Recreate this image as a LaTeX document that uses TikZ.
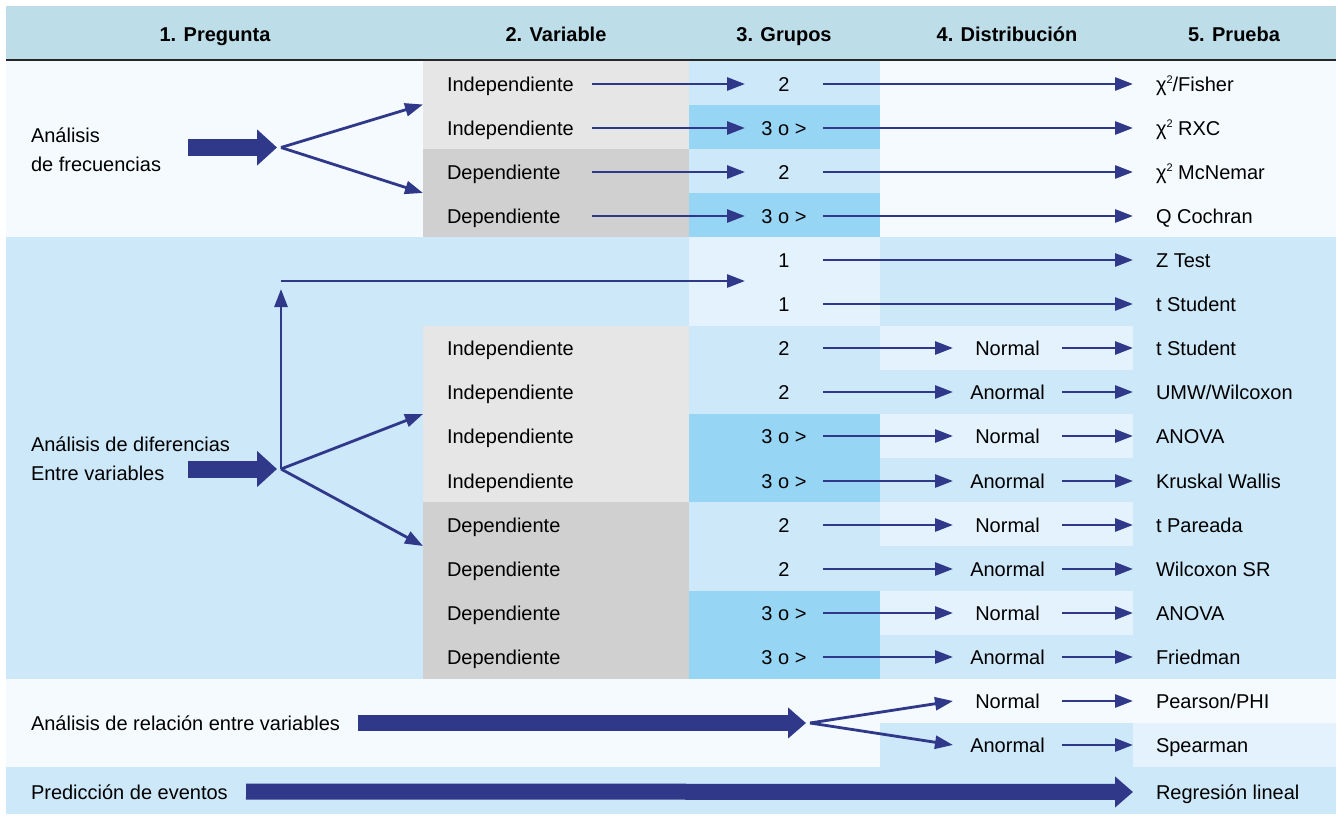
\documentclass[tikz,border=0pt]{standalone}
\usepackage{fontspec}
\setmainfont{Liberation Sans}
\usetikzlibrary{arrows.meta}
\definecolor{hdrc}{HTML}{BDDEE9}
\definecolor{paleA}{HTML}{F5FAFE}
\definecolor{paleB}{HTML}{E3F2FC}
\definecolor{blueA}{HTML}{CCE8F9}
\definecolor{blueB}{HTML}{97D5F5}
\definecolor{grayA}{HTML}{E6E6E6}
\definecolor{grayB}{HTML}{D0D0D0}
\definecolor{arr}{HTML}{30388A}
\newcommand{\chisq}{χ\raisebox{7.5pt}{\fontsize{11pt}{11pt}\selectfont 2}}
\tikzset{
  txt/.style={inner xsep=0pt, inner ysep=0pt, outer sep=0pt, text height=14.4pt, text depth=0pt,
    font=\fontsize{20pt}{24pt}\selectfont},
  hd/.style={txt, font=\fontsize{20pt}{24pt}\selectfont\bfseries},
  var/.style={txt, anchor=west, text width=145pt, align=left},
  grp/.style={txt, minimum width=78pt},
  dst/.style={txt, minimum width=109pt},
  prb/.style={txt, anchor=west},
  qst/.style={txt, anchor=west},
  con/.style={draw=arr, line width=2.8pt, -{Triangle[length=18pt,width=13pt]}},
  topr/.style={con, shorten >=23pt},
  bigA/.style={draw=arr, line width=17pt, -{Triangle[length=20pt,width=35pt]}},
  bigB/.style={draw=arr, line width=16pt, -{Triangle[length=18pt,width=30pt]}},
  bgblk/.style={inner sep=0pt, outer sep=0pt, anchor=north west}
}
\begin{document}
\begin{tikzpicture}[x=1pt,y=-1pt]
\useasboundingbox (0,0) rectangle (1336,816);
% ---------- backgrounds ----------
\fill[hdrc] (6,6) rectangle (1336,60);
% section 1
\fill[paleA] (6,60) rectangle (1336,237);
\node[bgblk, fill=grayA, minimum width=266pt, minimum height=89pt] (vb1) at (423,60) {};
\node[bgblk, fill=grayB, minimum width=266pt, minimum height=88pt] (vb2) at (423,149) {};
\fill[blueA] (689,60) rectangle (880,104.5);
\fill[blueB] (689,104.5) rectangle (880,149);
\fill[blueA] (689,149) rectangle (880,193);
\fill[blueB] (689,193) rectangle (880,237);
% section 2
\fill[blueA] (6,237) rectangle (1336,679);
\fill[paleB] (689,237) rectangle (880,326);
\node[bgblk, fill=grayA, minimum width=266pt, minimum height=176pt] (vb3) at (423,326) {};
\node[bgblk, fill=grayB, minimum width=266pt, minimum height=177pt] (vb4) at (423,502) {};
\fill[blueB] (689,414) rectangle (880,502);
\fill[blueB] (689,591) rectangle (880,679);
\fill[paleB] (880,326) rectangle (1133,370);
\fill[paleB] (880,414) rectangle (1133,458);
\fill[paleB] (880,502) rectangle (1133,546);
\fill[paleB] (880,591) rectangle (1133,635);
% section 3
\fill[paleA] (6,679) rectangle (1336,767);
\fill[blueA] (880,723) rectangle (1133,767);
\fill[paleB] (1133,723) rectangle (1336,767);
% section 4
\fill[blueA] (6,767) rectangle (1336,814);
% header rule
\draw[black!85, line width=2pt] (6,60) -- (1336,60);

% ---------- header ----------
\node[hd] (h1) at (215,34) {1. Pregunta};
\node[hd] (h2) at (556,34) {2. Variable};
\node[hd] (h3) at (784,34) {3. Grupos};
\node[hd] (h4) at (1007,34) {4. Distribución};
\node[hd] (h5) at (1234,34) {5. Prueba};

% ---------- section 1 ----------
\node[qst] (q1a) at (31,135.5) {Análisis};
\node[qst] (q1b) at (31,164.5) {de frecuencias};
\node[var] (v1) at (447,84) {Independiente};
\node[var] (v2) at (447,128) {Independiente};
\node[var] (v3) at (447,172) {Dependiente};
\node[var] (v4) at (447,216) {Dependiente};
\node[grp] (g1) at (784,84) {2};
\node[grp] (g2) at (784,128) {3 o >};
\node[grp] (g3) at (784,172) {2};
\node[grp] (g4) at (784,216) {3 o >};
\node[prb] (p1) at (1156,84) {\chisq/Fisher};
\node[prb] (p2) at (1156,128) {\chisq\ RXC};
\node[prb] (p3) at (1156,172) {\chisq\ McNemar};
\node[prb] (p4) at (1156,216) {Q Cochran};

\coordinate (b1s) at (188,147.5);
\coordinate (f1) at (281,147.5);
\draw[bigA, shorten >=4pt] (b1s) -- (f1);
\draw[con] (f1) -- (vb1.west);
\draw[con] (f1) -- (vb2.west);
\foreach \i in {1,...,4}{
  \draw[con] (v\i.east) -- (g\i.west);
  \draw[topr] (g\i.east) -- (p\i.west);
}

% ---------- section 2 ----------
\node[qst] (q2a) at (31,444.5) {Análisis de diferencias};
\node[qst] (q2b) at (31,473.5) {Entre variables};
\node[grp] (g5) at (784,260) {1};
\node[grp] (g6) at (784,304) {1};
\node[prb] (p5) at (1156,260) {Z Test};
\node[prb] (p6) at (1156,304) {t Student};
\draw[topr] (g5.east) -- (p5.west);
\draw[topr] (g6.east) -- (p6.west);

\node[var] (v7) at (447,348) {Independiente};
\node[var] (v8) at (447,392) {Independiente};
\node[var] (v9) at (447,436) {Independiente};
\node[var] (v10) at (447,481) {Independiente};
\node[var] (v11) at (447,525) {Dependiente};
\node[var] (v12) at (447,569) {Dependiente};
\node[var] (v13) at (447,613) {Dependiente};
\node[var] (v14) at (447,657) {Dependiente};

\node[grp] (g7) at (784,348) {2};
\node[grp] (g8) at (784,392) {2};
\node[grp] (g9) at (784,436) {3 o >};
\node[grp] (g10) at (784,481) {3 o >};
\node[grp] (g11) at (784,525) {2};
\node[grp] (g12) at (784,569) {2};
\node[grp] (g13) at (784,613) {3 o >};
\node[grp] (g14) at (784,657) {3 o >};

\node[dst] (d7) at (1007.5,348) {Normal};
\node[dst] (d8) at (1007.5,392) {Anormal};
\node[dst] (d9) at (1007.5,436) {Normal};
\node[dst] (d10) at (1007.5,481) {Anormal};
\node[dst] (d11) at (1007.5,525) {Normal};
\node[dst] (d12) at (1007.5,569) {Anormal};
\node[dst] (d13) at (1007.5,613) {Normal};
\node[dst] (d14) at (1007.5,657) {Anormal};

\node[prb] (p7) at (1156,348) {t Student};
\node[prb] (p8) at (1156,392) {UMW/Wilcoxon};
\node[prb] (p9) at (1156,436) {ANOVA};
\node[prb] (p10) at (1156,481) {Kruskal Wallis};
\node[prb] (p11) at (1156,525) {t Pareada};
\node[prb] (p12) at (1156,569) {Wilcoxon SR};
\node[prb] (p13) at (1156,613) {ANOVA};
\node[prb] (p14) at (1156,657) {Friedman};

\foreach \i in {7,...,14}{
  \draw[con] (g\i.east) -- (d\i.west);
  \draw[topr] (d\i.east) -- (p\i.west);
}

\coordinate (b2s) at (188,469);
\coordinate (f2) at (281,469);
\coordinate (vtop) at (281,289);
\coordinate (hst) at (281,281);
\coordinate (hend) at (745,281);
\coordinate (dtip) at (423,546);
\draw[bigA, shorten >=4pt] (b2s) -- (f2);
\draw[con] (f2) -- (vtop);
\draw[con] (hst) -- (hend);
\draw[con] (f2) -- (vb3.west);
\draw[con] (f2) -- (dtip);

% ---------- section 3 ----------
\node[qst] (q3) at (31,723) {Análisis de relación entre variables};
\node[dst] (d15) at (1007.5,701) {Normal};
\node[dst] (d16) at (1007.5,745) {Anormal};
\node[prb] (p15) at (1156,701) {Pearson/PHI};
\node[prb] (p16) at (1156,745) {Spearman};
\coordinate (b3s) at (358,723);
\coordinate (f3) at (810,723);
\draw[bigB, shorten >=4pt] (b3s) -- (f3);
\draw[con] (f3) -- (d15.west);
\draw[con] (f3) -- (d16.west);
\draw[topr] (d15.east) -- (p15.west);
\draw[topr] (d16.east) -- (p16.west);

% ---------- section 4 ----------
\node[qst] (q4) at (31,792) {Predicción de eventos};
\node[prb] (p17) at (1156,792) {Regresión lineal};
\coordinate (b4s) at (246,791.5);
\draw[bigB, shorten >=23pt] (b4s) -- (p17.west);
\end{tikzpicture}
\end{document}
